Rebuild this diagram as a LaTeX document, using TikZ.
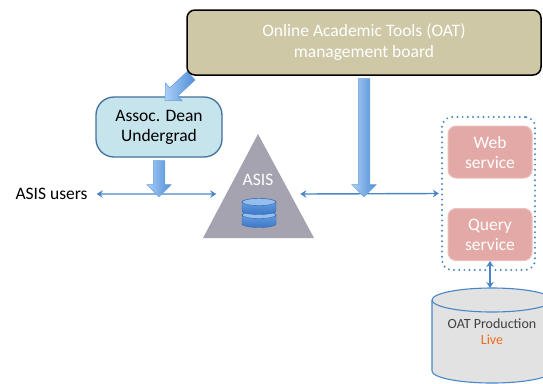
\documentclass[tikz,border=0pt]{standalone}
\usepackage{fontspec}
\setmainfont{Carlito}
\usetikzlibrary{shapes.arrows,calc,arrows.meta}
\pgfdeclarelayer{fg}
\pgfsetlayers{main,fg}
\definecolor{oatfill}{RGB}{206,200,166}
\definecolor{deanfill}{RGB}{198,228,236}
\definecolor{deanline}{RGB}{65,113,156}
\definecolor{pinkfill}{RGB}{227,169,166}
\definecolor{pinkline}{RGB}{236,192,190}
\definecolor{trifill}{RGB}{166,163,177}
\definecolor{linkblue}{RGB}{74,134,197}
\definecolor{fatlight}{RGB}{172,206,246}
\definecolor{fatdark}{RGB}{78,142,216}
\definecolor{cylfill}{RGB}{226,226,226}
\definecolor{prodtext}{RGB}{64,64,64}
\definecolor{liveorange}{RGB}{240,108,30}
\definecolor{dbtop}{RGB}{150,190,238}
\definecolor{dbhi}{RGB}{110,165,228}
\definecolor{dblo}{RGB}{60,120,200}
\definecolor{dbline}{RGB}{50,100,170}
\newcommand\fatlink[2]{\path let \p1=($(#1)-(#2)$), \n1={veclen(\x1,\y1)} in (#1) -- (#2) node[midway, sloped, allow upside down, fatarrow, minimum height=\n1]{};}
\begin{document}
\begin{tikzpicture}[x=1pt,y=-1pt,
  txt/.style={font=\fontsize{17.5}{20}\selectfont, align=center},
  board/.style={draw=black, line width=1.5pt, fill=oatfill, rounded corners=8pt, minimum width=354pt, minimum height=65pt, txt, font=\fontsize{17.5}{21}\selectfont, text=white, inner sep=0pt},
  deanbox/.style={draw=deanline, line width=1.3pt, fill=deanfill, rounded corners=18pt, minimum width=126pt, minimum height=60pt, txt, inner sep=0pt},
  svcbox/.style={draw=pinkline, line width=1pt, fill=pinkfill, rounded corners=8pt, minimum width=84pt, minimum height=52pt, txt, text=white, inner sep=0pt},
  grpbox/.style={draw=linkblue, line width=2.2pt, dash pattern=on 0pt off 5.2pt, line cap=round, rounded corners=10pt, minimum width=93pt, minimum height=153pt, inner sep=0pt},
  link/.style={draw=linkblue, line width=1.4pt, {Stealth[length=6pt,width=7.5pt,inset=2pt]}-{Stealth[length=6pt,width=7.5pt,inset=2pt]}},
  fatarrow/.style={single arrow, single arrow head extend=6.5pt, text height=5.5pt, text depth=5.5pt, text width=0pt, inner sep=0pt, outer sep=0pt, left color=fatlight, right color=fatdark, draw=fatdark!85, line width=0.5pt},
  plain/.style={txt, inner sep=0pt}
]
\useasboundingbox (0,0) rectangle (543,383);
\clip (0,0) rectangle (543,383);

% nodes
\begin{pgfonlayer}{fg}
\node[board] (oat) at (364,42.5) {Online Academic Tools (OAT)\\management board};
\end{pgfonlayer}
\node[deanbox] (dean) at (159,127) {Assoc. Dean\\Undergrad};
\node[plain] (users) at (51.5,194) {ASIS users};

% triangle
\coordinate (apex) at (258,134);
\coordinate (bl) at (203,238);
\coordinate (br) at (314,238);
\fill[trifill] (apex) -- (br) -- (bl) -- cycle;
\node[plain, text=white] (asis) at (258,180) {ASIS};

% database icon
\foreach \cy in {215,202}{
  \path[draw=dbline, line width=0.4pt, top color=dbhi, bottom color=dblo]
    (242,\cy) -- (242,\cy+9) arc[start angle=180,end angle=360,x radius=17pt,y radius=3.5pt]
    -- (276,\cy) arc[start angle=0,end angle=180,x radius=17pt,y radius=3.5pt] -- cycle;
  \draw[dbline, line width=0.4pt, fill=dbtop] (259,\cy) ellipse[x radius=17pt, y radius=3.5pt];
}

% service group
\node[grpbox] (grp) at (488.5,193.5) {};
\node[svcbox] (web) at (490,152) {Web\\service};
\node[svcbox] (query) at (490,234.5) {Query\\service};

% production database
\path[draw=linkblue, line width=1.1pt, fill=cylfill] (432,300) -- (432,371)
  arc[start angle=180,end angle=360,x radius=60pt,y radius=12pt] -- (552,300)
  arc[start angle=0,end angle=180,x radius=60pt,y radius=12pt] -- cycle;
\draw[linkblue, line width=1.1pt] (432,300) arc[start angle=180,end angle=360,x radius=60pt,y radius=12pt];
\node[inner sep=0pt, align=center, font=\fontsize{14}{16}\selectfont, text=prodtext] (prod) at (492,332) {OAT Production\\\textcolor{liveorange}{Live}};
\coordinate (prodtop) at (490,288);

% thin links
\coordinate (lstart) at ($(users.east)+(9,0)$);
\coordinate (lend) at ($($(apex)!0.577!(bl)$)+(-10,0)$);
\coordinate (rstart) at ($($(apex)!0.577!(br)$)+(10,0)$);
\coordinate (rend) at ($(grp.west)+(-2,0)$);
\draw[link] (lstart) -- (lend);
\draw[link] (rstart) -- (rend);
\draw[link] (query.south) -- (prodtop);

% fat arrows
\coordinate (jl) at (dean.south |- lstart);
\coordinate (jr) at (oat.south |- rstart);
\coordinate (dtail) at ($(oat.south west)+(7,-2)$);
\coordinate (dtip) at ($(dean.north)+(8,2)$);
\fatlink{dean.south}{jl}
\fatlink{oat.south}{jr}
\fatlink{dtail}{dtip}
\end{tikzpicture}
\end{document}
